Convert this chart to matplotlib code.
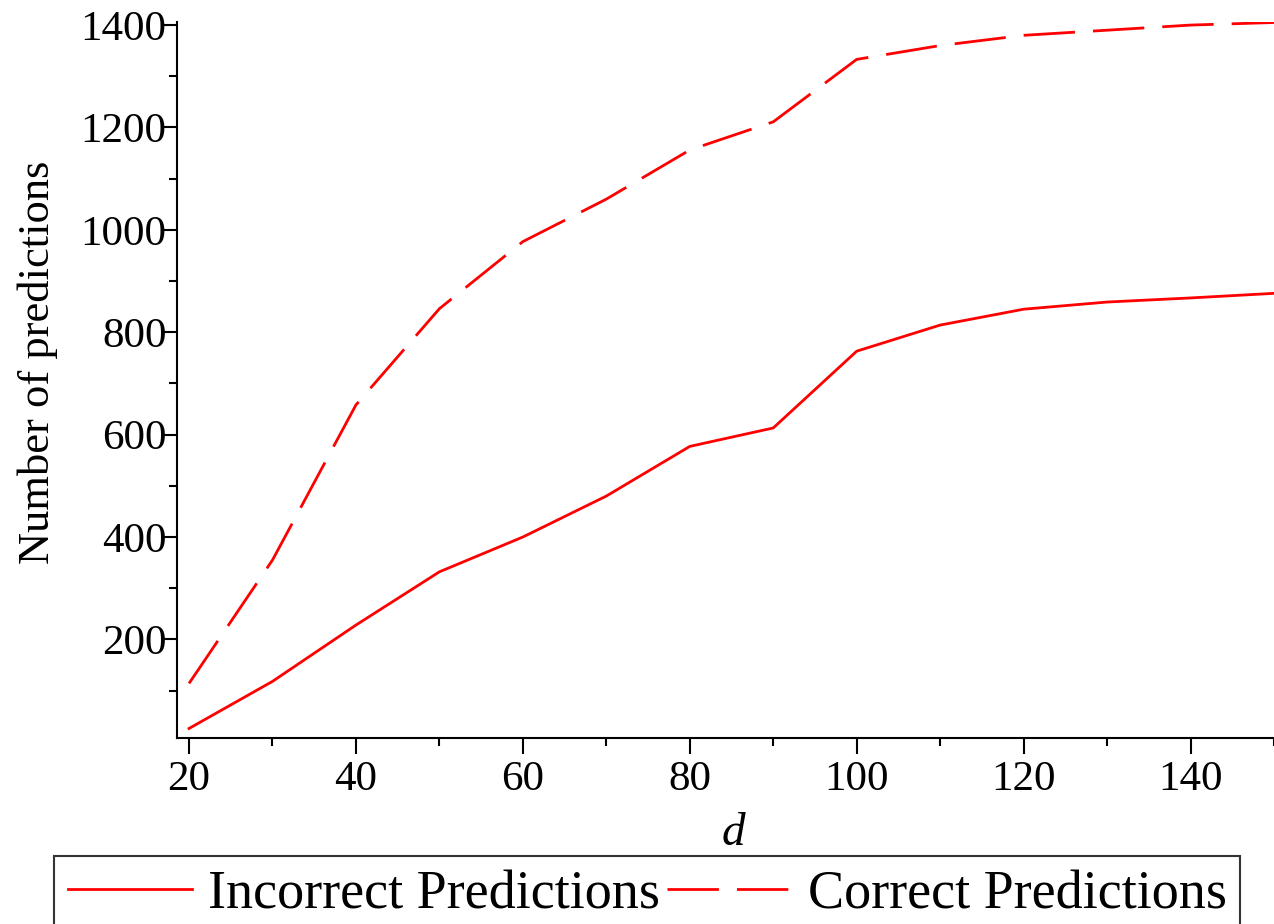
import matplotlib
matplotlib.use('Agg')
import matplotlib.pyplot as plt
from matplotlib.ticker import MultipleLocator

# valeurs
d = [20, 30, 40, 50, 60, 70, 80, 90, 100, 110, 120, 130, 140, 150]
incorrect = [26, 118, 228, 332, 400, 480, 577, 613, 763, 814, 845, 859, 867, 876]
correct = [114, 355, 658, 846, 977, 1060, 1156, 1211, 1333, 1360, 1380, 1390, 1400, 1405]

plt.rcParams['font.family'] = ['Liberation Serif', 'DejaVu Serif']

fig = plt.figure(figsize=(12.74, 9.24), dpi=100)
ax = fig.add_axes([177 / 1274, 1 - 737.7 / 924, 1 - 177 / 1274, (737.7 - 22) / 924])

ax.plot(d, incorrect, color='#ff0000', lw=2, label='Incorrect Predictions')
ax.plot(d, correct, color='#ff0000', lw=2, dashes=(18.5, 6.5), label='Correct Predictions')

ax.set_xlim(18.56, 150)
ax.set_ylim(8, 1406)

for s in ['top', 'right']:
    ax.spines[s].set_visible(False)
for s in ['left', 'bottom']:
    ax.spines[s].set_linewidth(1.5)

ax.xaxis.set_minor_locator(MultipleLocator(10))
ax.yaxis.set_minor_locator(MultipleLocator(100))
ax.set_yticks([200, 400, 600, 800, 1000, 1200, 1400])
ax.set_xticks([20, 40, 60, 80, 100, 120, 140])

ax.tick_params(axis='x', which='major', length=11.5, width=1.5, pad=5, labelsize=31)
ax.tick_params(axis='x', which='minor', length=6, width=1.5)
ax.tick_params(axis='y', which='major', length=9.5, width=1.5, pad=-2, labelsize=31)
ax.tick_params(axis='y', which='minor', length=6, width=1.5)

ax.set_xlabel('d', fontsize=34, fontstyle='italic', va='top')
ax.xaxis.set_label_coords(0.507, -0.104)
ax.set_ylabel('Number of predictions', fontsize=32)
ax.yaxis.set_label_coords(-0.1085, 0.524)

leg = fig.legend(loc='upper left', bbox_to_anchor=(54 / 1274, 1 - 856 / 924), ncol=2,
                 fontsize=39, frameon=True, fancybox=False, edgecolor='black',
                 handlelength=2.3, handletextpad=0.3, columnspacing=0.12,
                 borderpad=0.25, borderaxespad=0)
leg.get_frame().set_linewidth(1.5)

fig.savefig('out.png', dpi=100)
